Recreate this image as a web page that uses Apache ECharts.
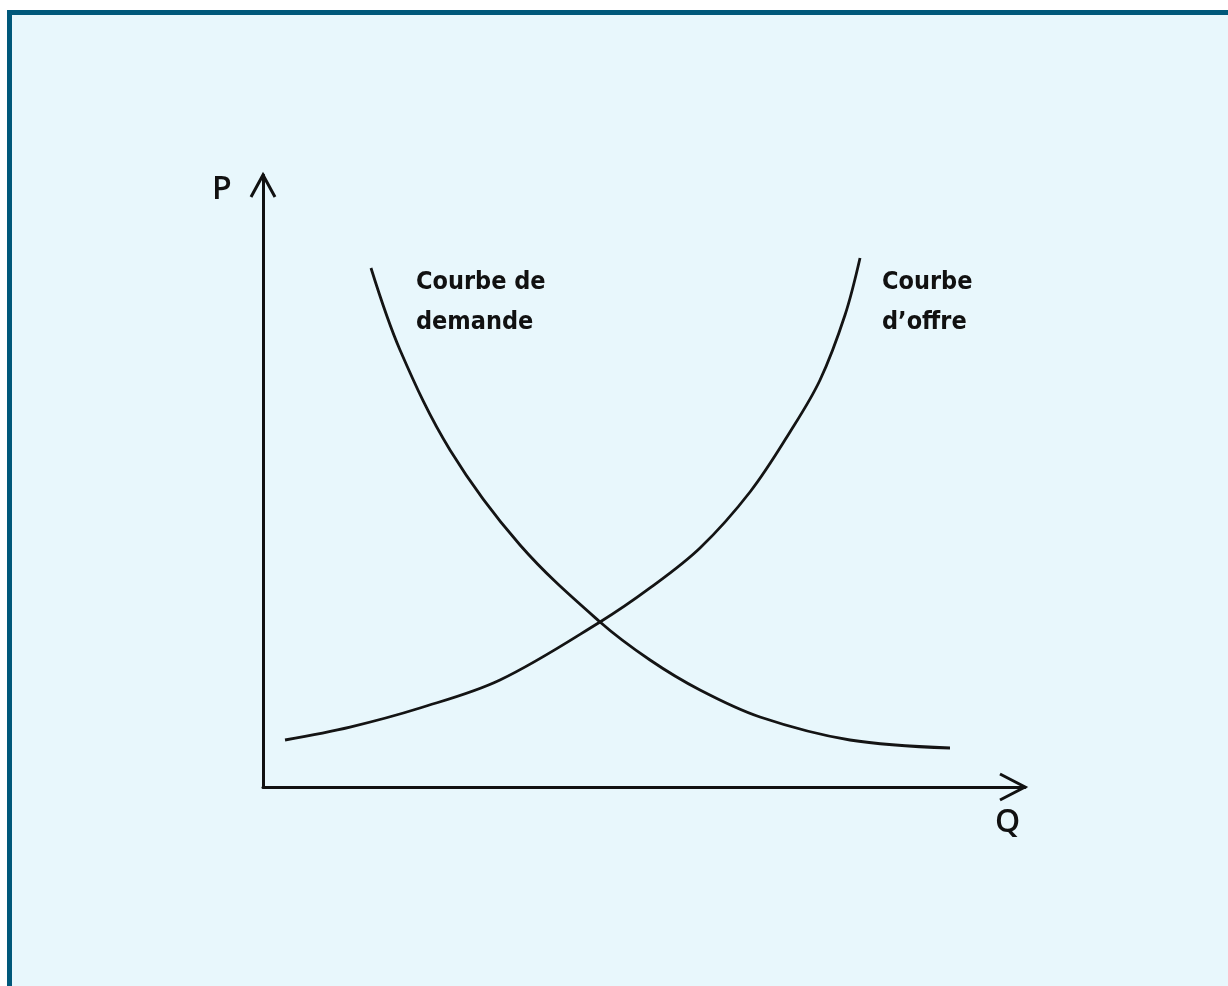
<!DOCTYPE html>
<html>
<head>
<meta charset="utf-8">
<script src="https://cdn.jsdelivr.net/npm/echarts@6/dist/echarts.min.js"></script>
<style>
  html, body { margin: 0; padding: 0; background: #ffffff; }
  #frame { position: absolute; left: 7px; top: 10px; width: 1221px; height: 976px;
           box-sizing: border-box; border-left: 5px solid #00587a; border-top: 5px solid #00587a;
           background: #e8f7fc; }
  #chart { position: absolute; left: 0; top: 0; width: 1228px; height: 986px; }
</style>
</head>
<body>
<div id="frame"></div>
<div id="chart"></div>
<script>
// Quantity (x) and price (y) in arbitrary units, 0..100
const demandQ = [14.17, 17.98, 24.54, 33.73, 44.23, 50.79, 57.35, 65.22, 77.03, 90.16];
const demandP = [84.80, 71.41, 55.07, 39.54, 26.96, 20.75, 15.85, 11.44, 7.68, 6.37];
const supplyQ = [2.89, 11.42, 20.60, 31.10, 44.23, 50.79, 57.35, 63.91, 69.16, 73.10, 76.38, 78.35];
const supplyP = [7.68, 9.80, 12.91, 17.48, 26.96, 32.52, 39.05, 48.20, 58.01, 66.50, 77.12, 86.44];
const axisNames = ['Q', 'P'];
const curveLabels = ['Courbe de\ndemande', 'Courbe\nd\u2019offre'];

const chart = echarts.init(document.getElementById('chart'), null, { renderer: 'canvas' });
const pair = (xs, ys) => xs.map((x, i) => [x, ys[i]]);
const lineStyle = { color: '#141414', width: 2.8 };
const axisCommon = {
  type: 'value', min: 0, max: 100,
  axisLine: { show: true, onZero: false, lineStyle: { color: '#111', width: 3 } },
  axisTick: { show: false }, axisLabel: { show: false }, splitLine: { show: false }
};
chart.setOption({
  backgroundColor: 'transparent',
  animation: false,
  grid: { left: 263, right: 203, top: 175, bottom: 199 },
  xAxis: Object.assign({}, axisCommon),
  yAxis: Object.assign({}, axisCommon),
  series: [
    { type: 'line', name: 'demande', data: pair(demandQ, demandP), smooth: 0.35, symbol: 'none', lineStyle },
    { type: 'line', name: 'offre', data: pair(supplyQ, supplyP), smooth: 0.35, symbol: 'none', lineStyle }
  ]
});

function decorate() {
  const xEnd = chart.convertToPixel({ gridIndex: 0 }, [100, 0]);
  const yEnd = chart.convertToPixel({ gridIndex: 0 }, [0, 100]);
  const arrowStyle = { stroke: '#111', lineWidth: 3, fill: null, lineJoin: 'miter' };
  const textStyle = (t, x, y, size, weight, family) => ({
    type: 'text', left: x, top: y,
    style: { text: t, fill: '#111', font: weight + ' ' + size + 'px ' + family, lineHeight: 40 }
  });
  chart.setOption({
    graphic: [
      { type: 'polyline', shape: { points: [[xEnd[0] - 25, xEnd[1] - 13], [xEnd[0], xEnd[1]], [xEnd[0] - 25, xEnd[1] + 13]] }, style: arrowStyle },
      { type: 'polyline', shape: { points: [[yEnd[0] - 12, yEnd[1] + 22], [yEnd[0], yEnd[1]], [yEnd[0] + 12, yEnd[1] + 22]] }, style: arrowStyle },
      textStyle(axisNames[1], 212, 170, 32, '600', '"Open Sans", sans-serif'),
      textStyle(axisNames[0], 995, 803, 32, '600', '"Open Sans", sans-serif'),
      textStyle(curveLabels[0], 416, 262, 25, 'bold', '"Liberation Sans Narrow", "DejaVu Sans Condensed", sans-serif'),
      textStyle(curveLabels[1], 882, 262, 25, 'bold', '"Liberation Sans Narrow", "DejaVu Sans Condensed", sans-serif')
    ]
  });
}
decorate();
</script>
</body>
</html>
